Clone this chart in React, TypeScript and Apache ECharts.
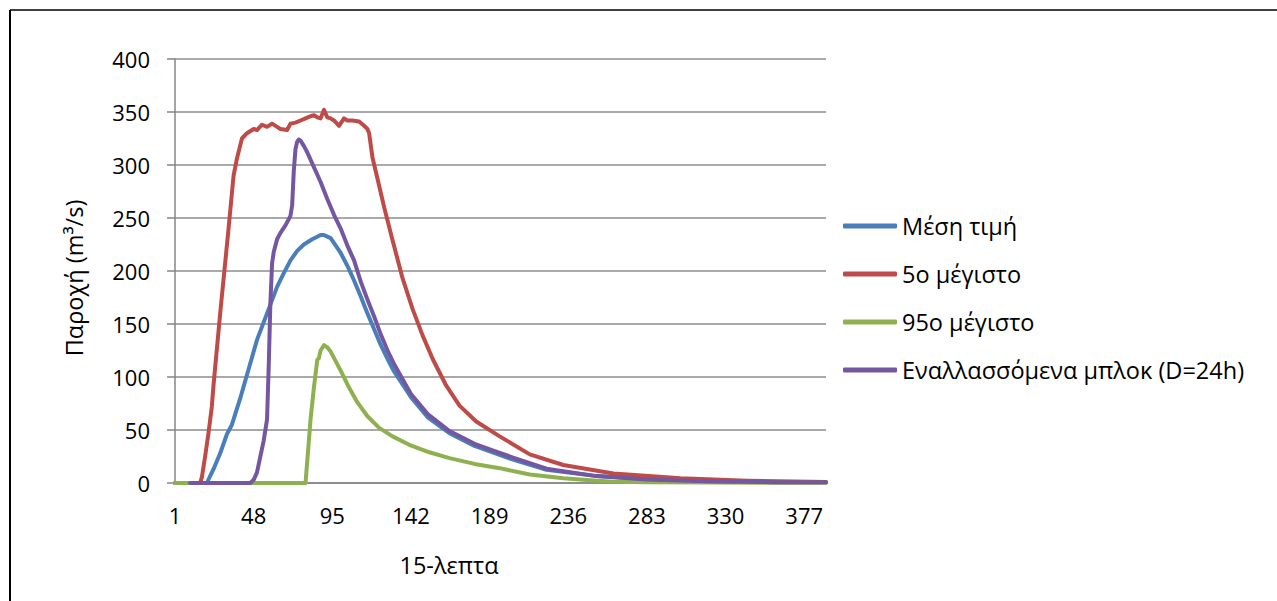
import React, { useEffect, useRef } from "react";
import * as echarts from "echarts";

const xTickLabels = [1, 48, 95, 142, 189, 236, 283, 330, 377];

const seriesNames = ["Μέση τιμή", "5ο μέγιστο", "95ο μέγιστο", "Εναλλασσόμενα μπλοκ (D=24h)"];

const meanX = [1, 20, 24, 28, 32, 35, 40, 42, 46, 50, 56, 62, 66, 70, 74, 78, 83, 88, 90, 94, 100, 104, 108, 112, 116, 120, 124, 128, 132, 137, 142, 152, 165, 180, 195, 203, 223, 253, 283, 323, 360, 390];
const meanY = [0, 0, 13, 28, 46, 55, 80, 91, 113, 135, 160, 185, 198, 210, 219, 225, 230, 234, 234, 231, 217, 205, 191, 176, 160, 145, 130, 117, 105, 93, 81, 62, 47, 35, 26.5, 22, 12.5, 6.5, 3.5, 1.5, 0.8, 0.5];

const max5X = [1, 16, 17, 19, 21, 23, 24, 28, 33, 36, 38, 41, 44, 48, 50, 53, 56, 59, 62, 64, 68, 70, 73, 76, 79, 82, 84, 86, 88, 90, 92, 94, 96, 99, 102, 104, 107, 111, 114, 116, 117, 119, 122, 126, 131, 137, 143, 149, 155, 163, 171, 181, 195, 213, 233, 263, 303, 343, 390];
const max5Y = [0, 0, 5, 25, 47, 72, 92, 160, 240, 290, 306, 325, 330, 334, 333, 338, 336, 339, 336, 334, 333, 339, 340, 342, 344, 346, 347, 345, 344, 352, 345, 344, 342, 337, 344, 342, 342, 341, 337, 334, 330, 307, 287, 260, 229, 193, 164, 139, 117, 92, 73, 58, 44, 27, 17, 9, 4.5, 2.2, 1];

const max95X = [1, 79, 82, 84, 86, 87, 88, 90, 92, 94, 100, 105, 110, 116, 123, 131, 141, 153, 165, 180, 195, 213, 233, 253, 263, 283, 323, 390];
const max95Y = [0, 0, 60, 90, 116, 118, 125, 130, 128, 124, 106, 90, 76, 63, 52, 44, 36, 29, 23.5, 18, 14, 8, 4.4, 2.2, 1.2, 0.8, 0.4, 0.2];

const blocksX = [10, 46, 48, 50, 52, 54, 56, 57, 58, 59, 60, 62, 64, 67, 70, 71, 72, 73, 74, 75, 76, 78, 80, 84, 88, 92, 96, 100, 104, 108, 112, 116, 120, 124, 128, 132, 137, 142, 152, 165, 180, 195, 203, 223, 253, 283, 323, 360, 390];
const blocksY = [0, 0, 3, 10, 25, 40, 60, 110, 170, 207, 218, 230, 236, 243, 252, 262, 295, 315, 322, 324, 323, 318, 312, 298, 284, 268, 253, 240, 224, 210, 190, 173, 157, 140, 125, 112, 98, 84, 65, 49, 37, 28.5, 24, 13.5, 6.5, 3.2, 1.4, 0.8, 0.6];

const colors = ["#4A7EBB", "#BE4B48", "#8FB04F", "#7556A0"];

const FONT = "'Open Sans', 'Noto Sans', sans-serif";

function pairs(xs: number[], ys: number[]) {
  return xs.map((x, i) => [x, ys[i]]);
}

export default function App() {
  const ref = useRef<HTMLDivElement>(null);
  useEffect(() => {
    if (!ref.current) return;
    const chart = echarts.init(ref.current, null, { renderer: "svg" });
    const dataSets = [pairs(meanX, meanY), pairs(max5X, max5Y), pairs(max95X, max95Y), pairs(blocksX, blocksY)];
    chart.setOption({
      animation: false,
      backgroundColor: "#ffffff",
      textStyle: { fontFamily: FONT },
      grid: { left: 175, right: 451, top: 59, bottom: 118, containLabel: false },
      legend: {
        orient: "vertical",
        left: 843,
        top: 214,
        padding: 0,
        icon: "roundRect",
        itemWidth: 54,
        itemHeight: 5,
        itemGap: 24,
        itemTextGap: 5,
        textStyle: { fontSize: 23.5, color: "#000", fontFamily: FONT, lineHeight: 24 },
        data: seriesNames,
      },
      xAxis: {
        type: "value",
        min: 1,
        max: 390,
        axisLine: { show: true, lineStyle: { color: "#868686", width: 1.5 } },
        axisTick: { show: false },
        splitLine: { show: false },
        axisLabel: {
          customValues: xTickLabels,
          fontSize: 22,
          color: "#000",
          margin: 21,
          fontFamily: FONT,
        },
      },
      yAxis: {
        type: "value",
        min: 0,
        max: 400,
        interval: 50,
        axisLine: { show: true, lineStyle: { color: "#868686", width: 1.5 } },
        axisTick: { show: true, length: 8, lineStyle: { color: "#868686", width: 1.5 } },
        splitLine: { show: true, lineStyle: { color: "#8C8C8C", width: 1.5 } },
        axisLabel: { fontSize: 22, color: "#000", margin: 25, fontFamily: FONT },
      },
      graphic: [
        { type: "line", shape: { x1: 10, y1: 10, x2: 1277, y2: 10 }, style: { stroke: "#000", lineWidth: 1.5 } },
        { type: "line", shape: { x1: 10, y1: 10, x2: 10, y2: 601 }, style: { stroke: "#000", lineWidth: 2 } },
        {
          type: "text",
          x: 449,
          y: 565,
          style: { text: "15-λεπτα", fontSize: 23.5, fill: "#000", fontFamily: FONT, align: "center", verticalAlign: "middle" },
        },
        {
          type: "text",
          x: 74,
          y: 278,
          rotation: Math.PI / 2,
          style: { text: "Παροχή (m³/s)", fontSize: 23.5, fill: "#000", fontFamily: FONT, align: "center", verticalAlign: "middle" },
        },
      ],
      series: seriesNames.map((name, k) => ({
        name,
        type: "line",
        data: dataSets[k],
        showSymbol: false,
        symbol: "none",
        smooth: false,
        color: colors[k],
        lineStyle: { width: 4, color: colors[k], cap: "round", join: "round" },
      })),
    });
    return () => chart.dispose();
  }, []);
  return <div ref={ref} style={{ position: "fixed", left: 0, top: 0, width: 1277, height: 601 }} />;
}
